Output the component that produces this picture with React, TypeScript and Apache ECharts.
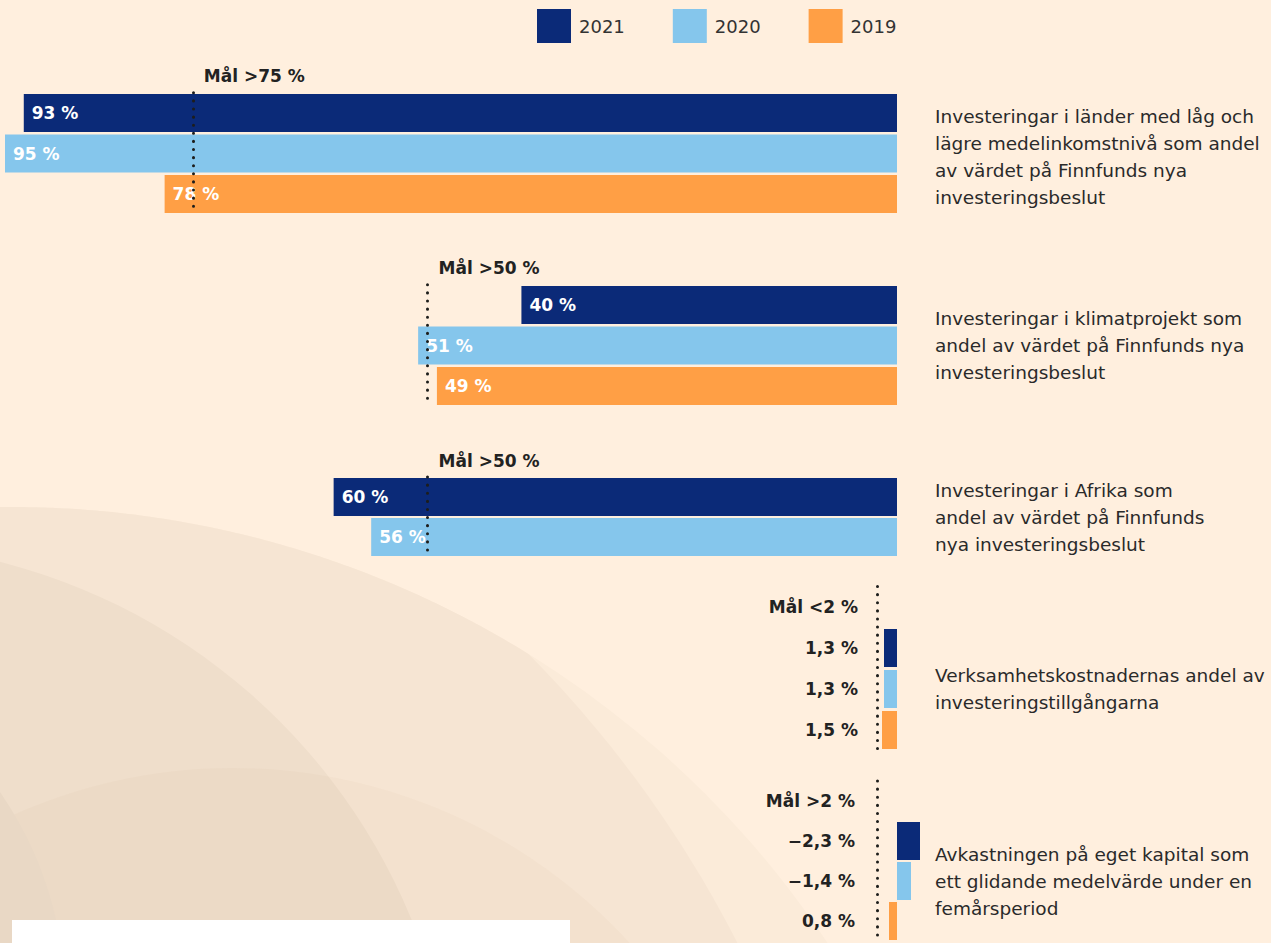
import React, { useEffect, useRef } from 'react';
import * as echarts from 'echarts';

// ---------- data ----------
const years = ['2021', '2020', '2019'];
const yearColors = ['#0B2A78', '#85C6EC', '#FF9F45'];
const values2021: (number | null)[] = [93, 40, 60, 1.3, -2.3];
const values2020: (number | null)[] = [95, 51, 56, 1.3, -1.4];
const values2019: (number | null)[] = [78, 49, null, 1.5, 0.8];
const targetValues = [75, 50, 50, 2, 2];
const targetSigns = ['>', '>', '>', '<', '>'];
const descriptions: string[][] = [
  ['Investeringar i länder med låg och', 'lägre medelinkomstnivå som andel', 'av värdet på Finnfunds nya', 'investeringsbeslut'],
  ['Investeringar i klimatprojekt som', 'andel av värdet på Finnfunds nya', 'investeringsbeslut'],
  ['Investeringar i Afrika som', 'andel av värdet på Finnfunds', 'nya investeringsbeslut'],
  ['Verksamhetskostnadernas andel av', 'investeringstillgångarna'],
  ['Avkastningen på eget kapital som', 'ett glidande medelvärde under en', 'femårsperiod'],
];

// ---------- layout ----------
const FONT = '"DejaVu Sans", sans-serif';
const panels = [
  { top: 92.75, rowH: 40.5, left: 5, right: 374, min: 0, max: 95, small: false, labelMargin: 0 },
  { top: 284.75, rowH: 40.5, left: 5, right: 374, min: 0, max: 95, small: false, labelMargin: 0 },
  { top: 477, rowH: 40, left: 5, right: 374, min: 0, max: 95, small: false, labelMargin: 0 },
  { top: 586.5, rowH: 41, left: 862, right: 374, min: 0, max: 3.5, small: true, labelMargin: 4 },
  { top: 781, rowH: 40, left: 862, right: 349, min: -2.5, max: 3.5, small: true, labelMargin: 7 },
];

const fmtSmall = (v: number) => v.toFixed(1).replace('.', ',').replace('-', '\u2212') + ' %';
const fmtBig = (v: number) => Math.round(v) + ' %';

// decorative background: intersection of circles as a polygon
type Circ = { cx: number; cy: number; r: number };
function topEdge(c: Circ, x: number) {
  const dx = x - c.cx;
  if (Math.abs(dx) >= c.r) return Infinity;
  return c.cy - Math.sqrt(c.r * c.r - dx * dx);
}
function intersectionPoly(circles: Circ[], bottom: number) {
  const pts: number[][] = [];
  let lastX = -20;
  for (let x = -20; x <= 1300; x += 4) {
    const y = Math.max(...circles.map((c) => topEdge(c, x)));
    if (y > bottom) break;
    pts.push([x, y]);
    lastX = x;
  }
  pts.push([lastX + 4, bottom], [-20, bottom]);
  return pts;
}

function buildOption() {
  const allValues = [values2021, values2020, values2019];
  const grid: any[] = [];
  const xAxis: any[] = [];
  const yAxis: any[] = [];
  const series: any[] = [];
  const graphic: any[] = [];

  const big: Circ = { cx: 12, cy: 1488, r: 981 };
  const steep: Circ = { cx: -300, cy: 1473, r: 1165 };
  graphic.push(
    { type: 'circle', z: -10, silent: true, shape: big, style: { fill: '#FBEBD9' } },
    { type: 'polygon', z: -9, silent: true, shape: { points: intersectionPoly([big, steep], 960) }, style: { fill: '#F6E5D3' } },
    { type: 'circle', z: -8, silent: true, shape: { cx: -150, cy: 1150, r: 607 }, style: { fill: '#EFDECB' } },
    { type: 'circle', z: -7, silent: true, shape: { cx: 233, cy: 1305, r: 537 }, style: { fill: 'rgba(190,150,110,0.05)' } },
    { type: 'circle', z: -6, silent: true, shape: { cx: -300, cy: 1000, r: 365 }, style: { fill: '#E9D8C5' } },
    { type: 'rect', z: -5, silent: true, shape: { x: 12, y: 920, width: 558, height: 40 }, style: { fill: '#FFFFFF' } }
  );

  panels.forEach((p, pi) => {
    const rowYears = years.filter((_, k) => allValues[k][pi] !== null);
    const targetLabel = `Mål ${targetSigns[pi]}${targetValues[pi]} %`;
    const cats = p.small ? [targetLabel, ...rowYears] : rowYears;
    const height = cats.length * p.rowH;
    grid.push({ left: p.left, right: p.right, top: p.top, height, containLabel: false });
    xAxis.push({ type: 'value', gridIndex: pi, min: p.min, max: p.max, inverse: true, show: false });
    yAxis.push({
      type: 'category',
      gridIndex: pi,
      data: cats,
      inverse: true,
      show: p.small,
      axisLine: { show: false, onZero: false },
      axisTick: { show: false },
      splitLine: { show: false },
      axisLabel: {
        show: p.small,
        interval: 0,
        margin: p.labelMargin,
        fontFamily: FONT,
        fontWeight: 'bold',
        fontSize: 17,
        color: '#222222',
        formatter: (val: string) => {
          const k = years.indexOf(val);
          if (k < 0) return val;
          return fmtSmall(allValues[k][pi] as number);
        },
      },
    });

    const yearIdx = years.map((_, k) => k).filter((k) => allValues[k][pi] !== null);
    yearIdx.forEach((k, j) => {
      const v = allValues[k][pi] as number;
      const s: any = {
        type: 'bar',
        name: years[k],
        xAxisIndex: pi,
        yAxisIndex: pi,
        barWidth: 38,
        barGap: '-100%',
        itemStyle: { color: yearColors[k] },
        data: cats.map((c) => (c === years[k] ? v : '-')),
        label: p.small
          ? { show: false }
          : {
              show: true,
              position: 'insideLeft',
              distance: 8,
              color: '#FFFFFF',
              fontFamily: FONT,
              fontWeight: 'bold',
              fontSize: 17,
              formatter: (d: any) => fmtBig(d.value),
            },
        emphasis: { disabled: true },
      };
      if (j === yearIdx.length - 1) {
        s.markLine = {
          silent: true,
          symbol: 'none',
          z: 10,
          data: [{ xAxis: targetValues[pi] }],
          lineStyle: { type: [0.1, 8], cap: 'round', width: 3, color: '#1d1d1b' },
          label: p.small
            ? { show: false }
            : {
                show: true,
                position: 'start',
                formatter: targetLabel,
                align: 'left',
                verticalAlign: 'bottom',
                distance: 8,
                padding: [0, 0, 0, 11],
                fontFamily: FONT,
                fontWeight: 'bold',
                fontSize: 17,
                color: '#222222',
              },
        };
      }
      series.push(s);
    });

    // description text, vertically centred on the bars
    const barRows = rowYears.length;
    const barsTop = p.small ? p.top + p.rowH : p.top;
    const center = barsTop + (barRows * p.rowH) / 2;
    const lines = descriptions[pi];
    const lh = 27;
    graphic.push({
      type: 'text',
      z: 5,
      silent: true,
      x: 935,
      y: center - (lines.length * lh) / 2 + (pi === 0 ? 3 : 0),
      style: {
        text: lines.join('\n'),
        fontFamily: FONT,
        fontSize: 18.5,
        lineHeight: lh,
        fill: '#2A2A2A',
        verticalAlign: 'top',
        align: 'left',
      },
    });
  });

  return {
    animation: false,
    backgroundColor: '#FFEFDE',
    legend: {
      data: years,
      left: 537,
      top: 9,
      padding: 0,
      icon: 'rect',
      itemWidth: 34,
      itemHeight: 34,
      itemGap: 48,
      selectedMode: false,
      textStyle: { fontFamily: FONT, fontSize: 18, color: '#333333', padding: [0, 0, 0, 3] },
    },
    grid,
    xAxis,
    yAxis,
    series,
    graphic,
  };
}

export default function App() {
  const ref = useRef<HTMLDivElement>(null);
  useEffect(() => {
    if (!ref.current) return;
    const chart = echarts.init(ref.current, undefined, { renderer: 'svg' });
    chart.setOption(buildOption() as any);
    return () => chart.dispose();
  }, []);
  return (
    <div
      ref={ref}
      style={{ position: 'fixed', left: 0, top: 0, width: 1271, height: 943 }}
    />
  );
}
